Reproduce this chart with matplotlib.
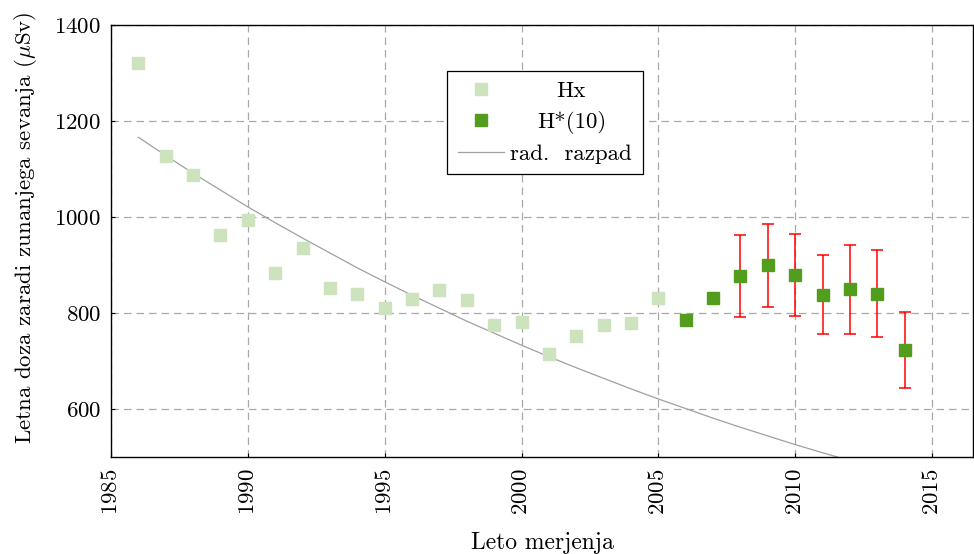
import matplotlib
matplotlib.use("Agg")
import matplotlib.pyplot as plt

plt.rcParams['font.family'] = 'serif'
plt.rcParams['font.serif'] = ['cmr10', 'DejaVu Serif']
plt.rcParams['mathtext.fontset'] = 'cm'
plt.rcParams['axes.formatter.use_mathtext'] = True

# Hx meritve (1986-2005)
hx_leta = list(range(1986, 2006))
hx_vrednosti = [1320, 1127, 1088, 963, 994, 883, 935, 852, 840, 810,
                829, 848, 827, 774, 781, 714, 752, 776, 780, 832]

# H*(10) meritve (2006-2014)
h10_leta = list(range(2006, 2015))
h10_vrednosti = [785, 832, 877, 899, 879, 838, 849, 840, 723]
h10_zgoraj = [None, None, 962, 985, 964, 920, 942, 932, 802]
h10_spodaj = [None, None, 792, 812, 794, 756, 756, 749, 644]

# radioaktivni razpad (odčitano s slike)
razpad_leta = list(range(1986, 2012)) + [2011.55]
razpad_vrednosti = [1166, 1128, 1091, 1056, 1021, 988, 956, 925, 894, 865,
                    837, 810, 783, 758, 733, 709, 686, 664, 642, 621,
                    601, 581, 562, 544, 526, 509, 500]

svetla = '#cce3bd'
temna = '#529c1e'

fig = plt.figure(figsize=(9.74, 5.54), dpi=100)
ax = fig.add_axes([0.114, 0.175, 0.885, 0.78])

ax.plot(hx_leta, hx_vrednosti, 's', color=svetla, markersize=8.5, label='Hx', zorder=3)
ax.plot(h10_leta, h10_vrednosti, 's', color=temna, markersize=8.5, label='H*(10)', zorder=4)

# napake samo kjer so podane
for x, y, zg, sp in zip(h10_leta, h10_vrednosti, h10_zgoraj, h10_spodaj):
    if zg is None:
        continue
    ax.errorbar([x], [y], yerr=[[y - sp], [zg - y]], fmt='none', ecolor='red',
                elinewidth=1.1, capsize=4.5, capthick=1.1, zorder=3)

ax.plot(razpad_leta, razpad_vrednosti, '-', color='#a0a0a0', lw=0.9, label='rad.  razpad', zorder=2)

ax.set_xlim(1985, 2016.5)
ax.set_ylim(500, 1400)
ax.set_xticks([1985, 1990, 1995, 2000, 2005, 2010, 2015])
ax.set_yticks([600, 800, 1000, 1200, 1400])
ax.tick_params(axis='x', labelrotation=90, direction='in', labelsize=16.5, length=3, pad=8)
ax.tick_params(axis='y', direction='in', labelsize=16.5, length=3, pad=7)
ax.grid(True, color='#a8a8a8', linestyle=(0, (6, 4)), lw=0.9)
for s in ax.spines.values():
    s.set_linewidth(1.0)

ax.set_xlabel('Leto merjenja', fontsize=17, labelpad=12)
ax.set_ylabel(r'Letna doza zaradi zunanjega sevanja ($\mu$Sv)', fontsize=16.5)
ax.yaxis.set_label_coords(-0.084, 0.53)

leg = ax.legend(loc='upper left', bbox_to_anchor=(0.377, 0.92), fontsize=16.5,
                frameon=True, fancybox=False, edgecolor='black', framealpha=1,
                handlelength=2.0, handletextpad=0.3, borderpad=0.45, labelspacing=0.42)
leg.get_frame().set_linewidth(0.9)

# besedila v legendi centriramo
fig.canvas.draw()
r = fig.canvas.get_renderer()
sirine = [t.get_window_extent(r).width for t in leg.get_texts()]
for t, w in zip(leg.get_texts(), sirine):
    t.set_x((max(sirine) - w) / 2)

fig.savefig('out.png', dpi=100)
